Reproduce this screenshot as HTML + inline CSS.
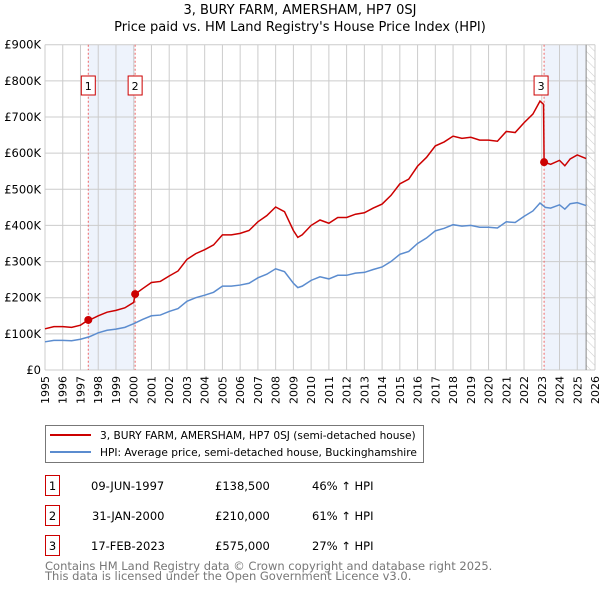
<!DOCTYPE html>
<html><head><meta charset="utf-8"><style>
body{margin:0;background:#fff;width:600px;height:590px;overflow:hidden;font-family:"DejaVu Sans","Liberation Sans",sans-serif}
svg text{font-family:"DejaVu Sans","Liberation Sans",sans-serif}
</style></head><body>
<svg id="c" width="600" height="590" xmlns="http://www.w3.org/2000/svg">
<defs><pattern id="hatch" width="6" height="6" patternUnits="userSpaceOnUse" patternTransform="rotate(-45)"><line x1="0" y1="0" x2="0" y2="6" stroke="#ccc" stroke-width="1"/></pattern></defs>
<text x="300" y="14" text-anchor="middle" font-size="13">3, BURY FARM, AMERSHAM, HP7 0SJ</text>
<text x="300" y="31" text-anchor="middle" font-size="13">Price paid vs. HM Land Registry's House Price Index (HPI)</text>
<g id="plot"></g>
<g>
<rect x="45.5" y="425.5" width="378" height="37" fill="#fff" stroke="#777"/>
<line x1="50" y1="435" x2="91" y2="435" stroke="#cc0000" stroke-width="2"/>
<text x="100" y="439" font-size="10.6">3, BURY FARM, AMERSHAM, HP7 0SJ (semi-detached house)</text>
<line x1="50" y1="452" x2="91" y2="452" stroke="#5b8ccf" stroke-width="2"/>
<text x="100" y="456" font-size="10.6">HPI: Average price, semi-detached house, Buckinghamshire</text>
</g>
<g font-size="11.5">
<rect x="45.5" y="475.5" width="14" height="20" fill="#fff" stroke="#cc0000"/><text x="52.5" y="490" text-anchor="middle">1</text>
<text x="91" y="490">09-JUN-1997</text><text x="215" y="490">£138,500</text><text x="312" y="490">46% ↑ HPI</text>
<rect x="45.5" y="505.5" width="14" height="20" fill="#fff" stroke="#cc0000"/><text x="52.5" y="520" text-anchor="middle">2</text>
<text x="92" y="520">31-JAN-2000</text><text x="215" y="520">£210,000</text><text x="312" y="520">61% ↑ HPI</text>
<rect x="45.5" y="535.5" width="14" height="20" fill="#fff" stroke="#cc0000"/><text x="52.5" y="550" text-anchor="middle">3</text>
<text x="91" y="550">17-FEB-2023</text><text x="215" y="550">£575,000</text><text x="312" y="550">27% ↑ HPI</text>
</g>
<text x="45" y="570" font-size="11.5" fill="#777">Contains HM Land Registry data © Crown copyright and database right 2025.</text>
<text x="45" y="580" font-size="11.5" fill="#777">This data is licensed under the Open Government Licence v3.0.</text>
</svg>
<script>
const hpiYears=[1995,1995.5,1996,1996.5,1997,1997.5,1998,1998.5,1999,1999.5,2000,2000.5,2001,2001.5,2002,2002.5,2003,2003.5,2004,2004.5,2005,2005.5,2006,2006.5,2007,2007.5,2008,2008.5,2009,2009.25,2009.5,2010,2010.5,2011,2011.5,2012,2012.5,2013,2013.5,2014,2014.5,2015,2015.5,2016,2016.5,2017,2017.5,2018,2018.5,2019,2019.5,2020,2020.5,2021,2021.5,2022,2022.5,2022.9,2023.2,2023.5,2024,2024.3,2024.6,2025,2025.5];
const hpiValues=[78,82,82,81,85,92,103,110,113,118,128,140,150,152,162,170,190,200,207,215,232,232,235,240,255,265,280,272,240,228,232,248,258,252,262,262,268,270,278,285,300,320,328,350,365,385,392,402,398,400,395,395,393,410,408,425,440,462,450,448,457,445,460,463,455];
const priceYears=[1995,1995.5,1996,1996.5,1997,1997.44,1997.5,1998,1998.5,1999,1999.5,2000,2000.08,2000.5,2001,2001.5,2002,2002.5,2003,2003.5,2004,2004.5,2005,2005.5,2006,2006.5,2007,2007.5,2008,2008.5,2009,2009.25,2009.5,2010,2010.5,2011,2011.5,2012,2012.5,2013,2013.5,2014,2014.5,2015,2015.5,2016,2016.5,2017,2017.5,2018,2018.5,2019,2019.5,2020,2020.5,2021,2021.5,2022,2022.5,2022.9,2023.1,2023.13,2023.5,2024,2024.3,2024.6,2025,2025.5];
const priceValues=[114,120,120,118,124,138.5,138,150,160,165,172,187,210,225,242,245,260,274,306,322,333,346,374,374,378,386,410,427,451,438,386,367,374,400,415,406,422,422,431,435,448,459,483,515,528,564,588,620,631,647,641,644,636,636,633,660,657,684,708,744,735,575,569,580,565,584,595,585];
const saleYears=[1997.44,2000.08,2023.13];
const saleValues=[138.5,210,575];
const saleLabels=['1','2','3'];
const yTicks=[0,100,200,300,400,500,600,700,800,900];
const yTickLabels=['£0','£100K','£200K','£300K','£400K','£500K','£600K','£700K','£800K','£900K'];
const xTicks=[1995,1996,1997,1998,1999,2000,2001,2002,2003,2004,2005,2006,2007,2008,2009,2010,2011,2012,2013,2014,2015,2016,2017,2018,2019,2020,2021,2022,2023,2024,2025,2026];
const dataEnd=2025.5;

const X0=45,X1=595,Y0=370,Y1=44.7;
const xs=y=>X0+(y-1995)/(2026-1995)*(X1-X0);
const ys=v=>Y0-v/900*(Y0-Y1);
const NS='http://www.w3.org/2000/svg';
const g=document.getElementById('plot');
function mk(t,a){const e=document.createElementNS(NS,t);for(const k in a)e.setAttribute(k,a[k]);g.appendChild(e);return e;}

let e;
e=mk('rect',{x:xs(saleYears[0]),y:Y1,width:xs(saleYears[1])-xs(saleYears[0]),height:Y0-Y1,fill:'#eef3fc'});


e=mk('rect',{x:xs(saleYears[2]),y:Y1,width:xs(dataEnd)-xs(saleYears[2]),height:Y0-Y1,fill:'#eef3fc'});


e=mk('rect',{x:xs(dataEnd),y:Y1,width:X1-xs(dataEnd),height:Y0-Y1,fill:'url(#hatch)'});



yTicks.forEach((v,i)=>{
  e=mk('line',{x1:X0,x2:X1,y1:ys(v),y2:ys(v),stroke:'#ccc','stroke-width':1});
  
  
  e=mk('text',{x:X0-4,y:ys(v)+4,'text-anchor':'end','font-size':'11.5'});
  e.textContent=yTickLabels[i];
  
  
});
xTicks.forEach(yr=>{
  e=mk('line',{x1:xs(yr),x2:xs(yr),y1:Y1,y2:Y0,stroke:'#ccc','stroke-width':1});
  
  
  e=mk('text',{x:0,y:0,'text-anchor':'end','font-size':'11',transform:`translate(${xs(yr)+4},${Y0+6}) rotate(-90)`});
  e.textContent=yr;
  
  
});
e=mk('line',{x1:xs(dataEnd),x2:xs(dataEnd),y1:Y1,y2:Y0,stroke:'#888','stroke-width':1});



saleYears.forEach((yr,i)=>{
  e=mk('line',{x1:xs(yr),x2:xs(yr),y1:Y1,y2:Y0,stroke:'#e66','stroke-width':1,'stroke-dasharray':'2,2'});
  
  
});

e=mk('polyline',{points:hpiYears.map((y,i)=>xs(y)+','+ys(hpiValues[i])).join(' '),fill:'none',stroke:'#5b8ccf','stroke-width':1.5});


e=mk('polyline',{points:priceYears.map((y,i)=>xs(y)+','+ys(priceValues[i])).join(' '),fill:'none',stroke:'#cc0000','stroke-width':1.5});



saleYears.forEach((yr,i)=>{
  e=mk('circle',{cx:xs(yr),cy:ys(saleValues[i]),r:4,fill:'#cc0000'});
  
  
  const bx=xs(yr)-(i==2?3:0);
  e=mk('rect',{x:bx-7,y:76,width:14,height:19,fill:'#fff',stroke:'#cc0000'});
  
  
  e=mk('text',{x:bx,y:90,'text-anchor':'middle','font-size':'11'});
  e.textContent=saleLabels[i];
  
  
});
</script>
</body></html>
